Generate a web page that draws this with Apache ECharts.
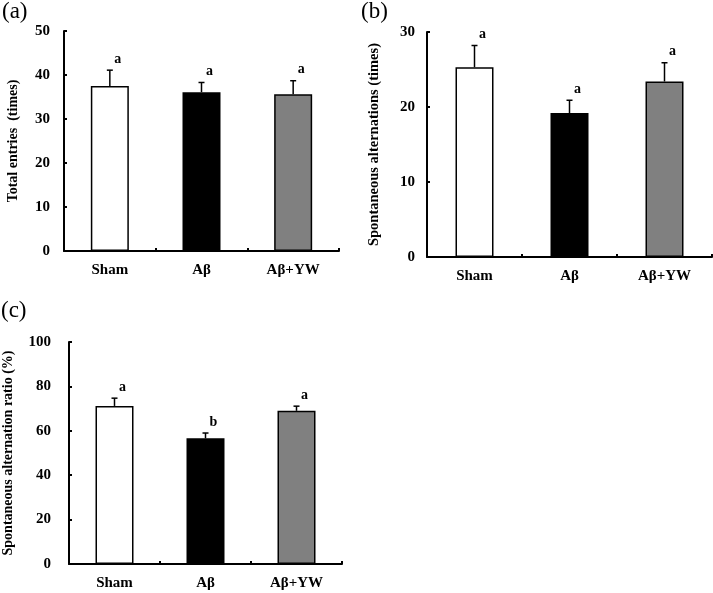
<!DOCTYPE html>
<html><head><meta charset="utf-8">
<script src="https://cdn.jsdelivr.net/npm/echarts@6/dist/echarts.min.js"></script>
<style>html,body{margin:0;padding:0;background:#fff}#c{width:713px;height:593px}</style>
</head><body><div id="c"></div>
<script>
const categories = ['Sham', 'Aβ', 'Aβ+YW'];
const barColors = ['#ffffff', '#000000', '#808080'];

const entriesMean = [37.5, 36.1, 35.6];
const entriesErr = [3.6, 2.2, 3.1];
const entriesLetters = ['a', 'a', 'a'];
const entriesTicks = [0, 50, 10];

const altMean = [25.3, 19.2, 23.4];
const altErr = [2.9, 1.7, 2.5];
const altLetters = ['a', 'a', 'a'];
const altTicks = [0, 30, 10];

const ratioMean = [71.2, 56.6, 69.0];
const ratioErr = [3.5, 2.4, 2.1];
const ratioLetters = ['a', 'b', 'a'];
const ratioTicks = [0, 100, 20];

const FONT = '"Liberation Serif", "Times New Roman", serif';

const panels = [
  {grid: {left: 64, top: 31, width: 275, height: 220}, mean: entriesMean, err: entriesErr, letters: entriesLetters, ticks: entriesTicks, name: 'Total entries  (times)', gap: 44, nameSize: 14, labelMargin: 14, tag: '(a)', tagPos: [2, 0]},
  {grid: {left: 427, top: 32, width: 285, height: 225}, mean: altMean, err: altErr, letters: altLetters, ticks: altTicks, name: 'Spontaneous alternations (times)', gap: 45, nameSize: 14.5, labelMargin: 12, tag: '(b)', tagPos: [361, 0]},
  {grid: {left: 68, top: 342, width: 274, height: 222}, mean: ratioMean, err: ratioErr, letters: ratioLetters, ticks: ratioTicks, name: 'Spontaneous alternation ratio (%)', gap: 54, nameSize: 14, labelMargin: 18, tag: '(c)', tagPos: [1, 299]}
];

const grids = [], xAxes = [], yAxes = [], series = [], graphics = [];
panels.forEach((p, i) => {
  grids.push(p.grid);
  xAxes.push({
    type: 'category', gridIndex: i, data: categories,
    axisLine: {lineStyle: {color: '#000', width: 2}},
    axisTick: {show: true, inside: true, length: 3, lineStyle: {color: '#000', width: 2}},
    axisLabel: {color: '#000', fontFamily: FONT, fontWeight: 'bold', fontSize: 15, margin: 12}
  });
  yAxes.push({
    type: 'value', gridIndex: i, min: p.ticks[0], max: p.ticks[1], interval: p.ticks[2],
    name: p.name, nameLocation: 'middle', nameGap: p.gap,
    nameTextStyle: {color: '#000', fontFamily: FONT, fontWeight: 'bold', fontSize: p.nameSize},
    splitLine: {show: false},
    axisLine: {show: true, lineStyle: {color: '#000', width: 2}},
    axisTick: {show: true, inside: true, length: 3, lineStyle: {color: '#000', width: 2}},
    axisLabel: {color: '#000', fontFamily: FONT, fontWeight: 'bold', fontSize: 15, margin: p.labelMargin}
  });
  series.push({
    type: 'bar', xAxisIndex: i, yAxisIndex: i, barWidth: 38,
    data: p.mean.map((v, k) => ({value: v, itemStyle: {color: barColors[k]}})),
    itemStyle: {borderColor: '#000', borderWidth: 1.5},
    silent: true
  });
  series.push({
    type: 'custom', xAxisIndex: i, yAxisIndex: i, silent: true, z: 5,
    data: p.mean.map((v, k) => [k, v, v + p.err[k], p.letters[k]]),
    renderItem: function (params, api) {
      const base = api.coord([api.value(0), api.value(1)]);
      const top = api.coord([api.value(0), api.value(2)]);
      const x = base[0];
      return {
        type: 'group',
        children: [
          {type: 'line', shape: {x1: x, y1: base[1], x2: x, y2: top[1]}, style: {stroke: '#000', lineWidth: 1.5}},
          {type: 'line', shape: {x1: x - 3, y1: top[1], x2: x + 3, y2: top[1]}, style: {stroke: '#000', lineWidth: 1.5}},
          {type: 'text', style: {text: p.letters[params.dataIndex], x: x + 8, y: top[1] - 11, align: 'center', verticalAlign: 'middle', fill: '#000', font: 'bold 14px ' + FONT}}
        ]
      };
    }
  });
  graphics.push({type: 'text', left: p.tagPos[0], top: p.tagPos[1], style: {text: p.tag, fill: '#000', font: '23px ' + FONT}});
});

const chart = echarts.init(document.getElementById('c'), null, {renderer: 'canvas'});
chart.setOption({
  animation: false,
  grid: grids, xAxis: xAxes, yAxis: yAxes, series: series, graphic: graphics
});
</script>
</body></html>
